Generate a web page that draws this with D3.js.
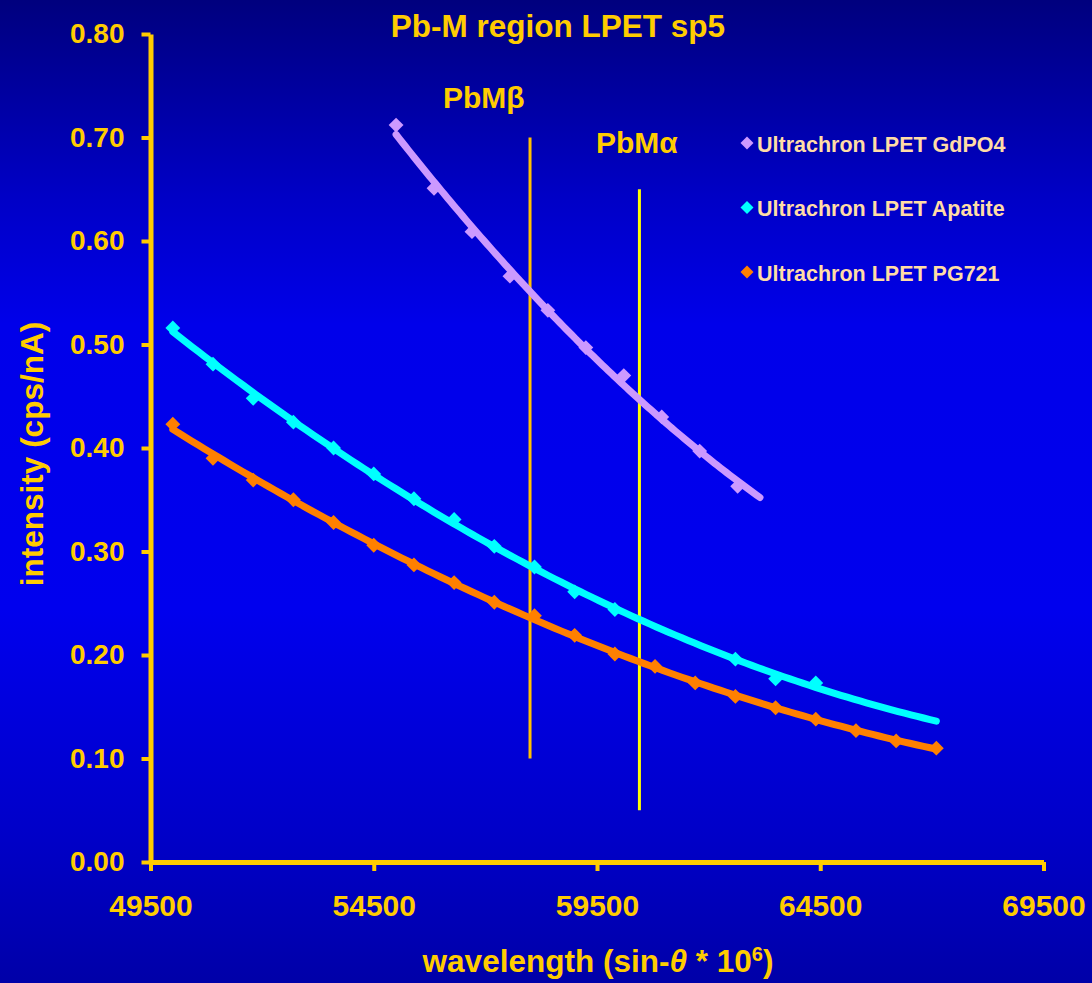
<!DOCTYPE html>
<html>
<head>
<meta charset="utf-8">
<script src="https://cdn.jsdelivr.net/npm/d3@7"></script>
<style>
  html, body { margin: 0; padding: 0; background: #0000c0; }
  svg { display: block; }
  text { font-family: "Liberation Sans", Arial, sans-serif; font-weight: bold; }
</style>
</head>
<body>
<svg id="chart" width="1092" height="983"></svg>
<script>
// ---- data ----
const xTicks = [49500, 54500, 59500, 64500, 69500];
const yTicks = [0.00, 0.10, 0.20, 0.30, 0.40, 0.50, 0.60, 0.70, 0.80];

const seriesNames = ["Ultrachron LPET GdPO4", "Ultrachron LPET Apatite", "Ultrachron LPET PG721"];
const seriesColors = ["#cc99ff", "#00ffff", "#ff8000"];

const gdpo4X = [55000, 55850, 56700, 57550, 58400, 59250, 60100, 60950, 61800, 62650];
const gdpo4Y = [0.712, 0.651, 0.609, 0.566, 0.533, 0.497, 0.470, 0.430, 0.397, 0.363];

const apatiteX = [50000, 50900, 51800, 52700, 53600, 54500, 55400, 56300, 57200, 58100,
                  59000, 59900, 62600, 63500, 64400];
const apatiteY = [0.516, 0.481, 0.448, 0.425, 0.400, 0.375, 0.351, 0.331, 0.305, 0.285,
                  0.261, 0.244, 0.196, 0.177, 0.173];

const pg721X = [50000, 50900, 51800, 52700, 53600, 54500, 55400, 56300, 57200, 58100,
                59000, 59900, 60800, 61700, 62600, 63500, 64400, 65300, 66200, 67100];
const pg721Y = [0.423, 0.390, 0.369, 0.350, 0.328, 0.306, 0.287, 0.270, 0.251, 0.238,
                0.219, 0.201, 0.189, 0.173, 0.160, 0.149, 0.138, 0.127, 0.117, 0.110];

// span over which each trendline is drawn
const trendFrom = [55000, 50000, 50000];
const trendTo   = [63150, 67100, 67100];

// emission line markers
const lineNames = ["PbMβ", "PbMα"];
const lineX     = [58000, 60450];
const lineLow   = [0.10, 0.05];
const lineHigh  = [0.70, 0.65];
const lineColors = ["#ffc000", "#ffff00"];

// ---- setup ----
const svg = d3.select("#chart");
const W = 1092, H = 983;
const gold = "#ffcc00";

const defs = svg.append("defs");
const grad = defs.append("linearGradient").attr("id", "bg")
  .attr("x1", 0).attr("y1", 0).attr("x2", 0).attr("y2", 1);
[[0, "#00007e"], [0.2, "#0000c6"], [0.33, "#0000ea"], [0.62, "#0000ee"], [0.85, "#0000c8"], [1, "#0000a8"]]
  .forEach(([o, c]) => grad.append("stop").attr("offset", o).attr("stop-color", c));
svg.append("rect").attr("width", W).attr("height", H).attr("fill", "url(#bg)");

const x = d3.scaleLinear().domain([49500, 69500]).range([150.5, 1043.5]);
const y = d3.scaleLinear().domain([0, 0.8]).range([862, 34]);

// ---- axes ----
const yAxis = d3.axisLeft(y).tickValues(yTicks).tickFormat(d3.format(".2f"))
  .tickSize(9).tickSizeOuter(0).tickPadding(17);
const gy = svg.append("g").attr("transform", `translate(${x(49500)},0)`).call(yAxis);

const xAxis = d3.axisBottom(x).tickValues(xTicks).tickFormat(d3.format("d"))
  .tickSize(9).tickSizeOuter(0).tickPadding(24);
const gx = svg.append("g").attr("transform", `translate(0,${y(0)})`).call(xAxis);

[gy, gx].forEach(g => {
  g.select(".domain").attr("stroke", gold).attr("stroke-width", 5);
  g.selectAll(".tick line").attr("stroke", gold).attr("stroke-width", 4);
  g.selectAll(".tick text").attr("fill", gold)
    .style("font-family", '"Liberation Sans", Arial, sans-serif').style("font-weight", "bold");
});
gy.selectAll(".tick text").style("font-size", "28px");
gx.selectAll(".tick text").style("font-size", "30px");

// ---- titles ----
svg.append("text").attr("x", 558).attr("y", 37).attr("text-anchor", "middle")
  .attr("fill", gold).style("font-size", "31.5px").text("Pb-M region LPET sp5");

const xt = svg.append("text").attr("x", 598).attr("y", 972).attr("text-anchor", "middle")
  .attr("fill", gold).style("font-size", "31.5px");
xt.append("tspan").text("wavelength (sin-");
xt.append("tspan").style("font-style", "italic").text("θ");
xt.append("tspan").text(" * 10");
xt.append("tspan").attr("dy", -11).style("font-size", "20px").text("6");
xt.append("tspan").attr("dy", 11).text(")");

svg.append("text").attr("transform", "translate(43,454) rotate(-90)").attr("text-anchor", "middle")
  .attr("fill", gold).style("font-size", "31.5px").text("intensity (cps/nA)");

// ---- emission lines ----
lineX.forEach((lx, i) => {
  svg.append("line").attr("x1", x(lx)).attr("x2", x(lx))
    .attr("y1", y(lineHigh[i])).attr("y2", y(lineLow[i]))
    .attr("stroke", lineColors[i]).attr("stroke-width", 3);
});
svg.append("text").attr("x", 443).attr("y", 108).attr("fill", gold)
  .style("font-size", "30px").text(lineNames[0]);
svg.append("text").attr("x", 596).attr("y", 153).attr("fill", gold)
  .style("font-size", "30px").text(lineNames[1]);

// ---- quadratic least-squares trendline ----
function quadFit(xs, ys) {
  const c = 58000, s = 10000;
  let S = Array.from({length: 5}, () => 0), T = [0, 0, 0];
  xs.forEach((xv, i) => {
    const t = (xv - c) / s;
    for (let p = 0; p < 5; p++) S[p] += Math.pow(t, p);
    for (let p = 0; p < 3; p++) T[p] += ys[i] * Math.pow(t, p);
  });
  const A = [[S[0], S[1], S[2], T[0]], [S[1], S[2], S[3], T[1]], [S[2], S[3], S[4], T[2]]];
  for (let i = 0; i < 3; i++) {
    for (let k = i + 1; k < 3; k++) {
      const f = A[k][i] / A[i][i];
      for (let j = i; j < 4; j++) A[k][j] -= f * A[i][j];
    }
  }
  const b = [0, 0, 0];
  for (let i = 2; i >= 0; i--) {
    let v = A[i][3];
    for (let j = i + 1; j < 3; j++) v -= A[i][j] * b[j];
    b[i] = v / A[i][i];
  }
  return xv => { const t = (xv - c) / s; return b[0] + b[1] * t + b[2] * t * t; };
}

const seriesX = [gdpo4X, apatiteX, pg721X];
const seriesY = [gdpo4Y, apatiteY, pg721Y];
const line = d3.line().x(d => x(d[0])).y(d => y(d[1])).curve(d3.curveLinear);
const diamond = d3.symbol().type(d3.symbolSquare).size(110);

seriesX.forEach((xs, i) => {
  const f = quadFit(xs, seriesY[i]);
  const n = 120, pts = [];
  for (let j = 0; j <= n; j++) {
    const xv = trendFrom[i] + (trendTo[i] - trendFrom[i]) * j / n;
    pts.push([xv, f(xv)]);
  }
  svg.append("g").selectAll("path").data(xs.map((xv, j) => [xv, seriesY[i][j]]))
    .join("path").attr("d", diamond)
    .attr("transform", d => `translate(${x(d[0])},${y(d[1])}) rotate(45)`)
    .attr("fill", seriesColors[i]);
  svg.append("path").attr("d", line(pts)).attr("fill", "none")
    .attr("stroke", seriesColors[i]).attr("stroke-width", 7).attr("stroke-linecap", "round");
});

// ---- legend ----
const legY = [143, 207.5, 272];
seriesNames.forEach((name, i) => {
  svg.append("path").attr("d", d3.symbol().type(d3.symbolSquare).size(84))
    .attr("transform", `translate(747,${legY[i]}) rotate(45)`).attr("fill", seriesColors[i]);
  svg.append("text").attr("x", 757).attr("y", legY[i] + 8.5).attr("fill", "#ffdca6")
    .style("font-size", "21.5px").text(name);
});
</script>
</body>
</html>
